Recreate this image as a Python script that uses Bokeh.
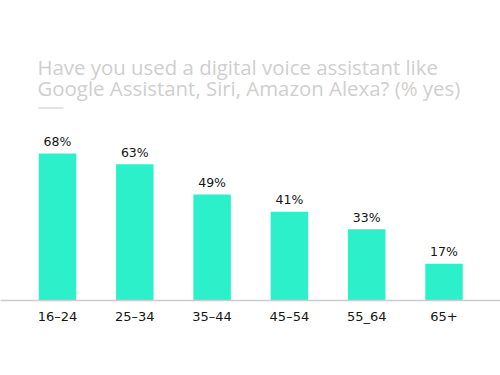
from bokeh.plotting import figure
from bokeh.models import ColumnDataSource, Range1d, FixedTicker, Label, BoxAnnotation
from bokeh.core.properties import value
from bokeh.embed import file_html
from bokeh.resources import INLINE

categories = ["16–24", "25–34", "35–44", "45–54", "55_64", "65+"]
values = [68, 63, 49, 41, 33, 17]
value_labels = ["68%", "63%", "49%", "41%", "33%", "17%"]
title_lines = ["Have you used a digital voice assistant like",
               "Google Assistant, Siri, Amazon Alexa? (% yes)"]

positions = list(range(len(categories)))
source = ColumnDataSource(dict(x=positions, top=values, label=value_labels))

W, H = 500, 375
p = figure(width=W, height=H, output_backend="svg", toolbar_location=None,
           x_range=Range1d(-0.7374, 5.7309), y_range=Range1d(0, 138.76),
           min_border_left=0, min_border_right=0, min_border_top=0,
           min_border_bottom=75)
p.outline_line_color = None
p.background_fill_color = "white"
p.border_fill_color = "white"
p.xgrid.visible = False
p.ygrid.visible = False
p.yaxis.visible = False

p.vbar(x="x", top="top", bottom=0, width=0.485, source=source,
       fill_color="#2cf0ca", line_color=None)

p.text(x="x", y="top", text="label", source=source, text_align="center",
       text_baseline="alphabetic", y_offset=-12,
       text_font=value("DejaVu Sans"), text_font_size="12.5px", text_color="#151515")

ax = p.xaxis[0]
ax.ticker = FixedTicker(ticks=positions)
ax.major_label_overrides = {i: c for i, c in zip(positions, categories)}
ax.major_tick_line_color = None
ax.minor_tick_line_color = None
ax.axis_line_color = "#cccccc"
ax.axis_line_width = 1.5
ax.major_label_standoff = 2
ax.major_label_text_font = "DejaVu Sans"
ax.major_label_text_font_size = "13px"
ax.major_label_text_color = "#151515"

p.add_layout(Label(x=37, y=234, x_units="screen", y_units="screen",
                   text=title_lines[0], text_font="Open Sans", text_font_size="20.4px",
                   text_color="#cfcfcf", text_baseline="alphabetic"))
p.add_layout(Label(x=37, y=213, x_units="screen", y_units="screen",
                   text=title_lines[1], text_font="Open Sans", text_font_size="20.4px",
                   text_color="#cfcfcf", text_baseline="alphabetic"))
p.add_layout(BoxAnnotation(left=38, right=63, bottom=191.7, top=193.2,
                           left_units="screen", right_units="screen",
                           bottom_units="screen", top_units="screen",
                           fill_color="#d8d8d8", fill_alpha=1, line_color=None))

open("out.html", "w").write(file_html(p, INLINE))
